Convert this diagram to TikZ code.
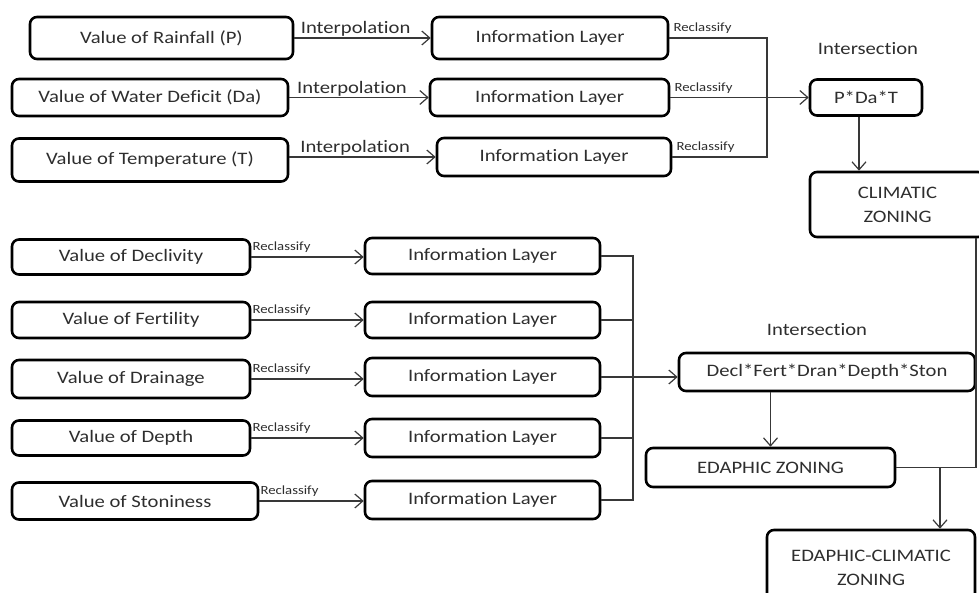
\documentclass[tikz,border=0pt]{standalone}
\usepackage{fontspec}
\setmainfont{Carlito}[FakeStretch=1.18,Ligatures={NoCommon}]
\usetikzlibrary{arrows.meta}
\definecolor{txt}{HTML}{2E2E2E}
\definecolor{ln}{HTML}{383838}
\tikzset{
  box/.style={draw=black, line width=2.6pt, rounded corners=7pt, text=txt,
    font=\fontsize{17.5}{24}\selectfont, align=center, inner sep=0pt},
  conn/.style={draw=ln, line width=1.2pt},
  arr/.style={conn, -{Straight Barb[length=8pt,width=14pt]}},
  lbl/.style={text=txt, font=\fontsize{17.5}{21}\selectfont, inner sep=1pt},
  small/.style={text=txt, font=\fontsize{12.5}{14}\selectfont, inner sep=1pt},
}
\begin{document}
\begin{tikzpicture}[x=1pt,y=-1pt]
\useasboundingbox (0,0) rectangle (979,593);
\clip (0,0) rectangle (979,593);
% upper inputs
\node[box,minimum width=263pt,minimum height=42pt] (rain) at (161.5,38) {Value of Rainfall (P)};
\node[box,minimum width=276pt,minimum height=37pt] (water) at (150,97.5) {Value of Water Deficit (Da)};
\node[box,minimum width=276pt,minimum height=43pt] (temp) at (150,160) {Value of Temperature (T)};
\node[box,minimum width=236pt,minimum height=42pt] (il1) at (550,38) {Information Layer};
\node[box,minimum width=239pt,minimum height=37pt] (il2) at (549.5,97.5) {Information Layer};
\node[box,minimum width=234pt,minimum height=38pt] (il3) at (554,157) {Information Layer};
\draw[arr] (rain) -- node[lbl,above,pos=0.45]{Interpolation} (il1);
\draw[arr] (water) -- node[lbl,above,pos=0.45]{Interpolation} (il2);
\draw[arr] (temp.east |- il3.west) -- node[lbl,above,pos=0.45]{Interpolation} (il3.west);
% collector 1
\coordinate (cx) at (767,0);
\node[box,minimum width=112pt,minimum height=36pt] (pdt) at (866,97.5) {P*Da*T};
\node[lbl] (int1) at (868,49) {Intersection};
\draw[conn] (il1.east) -- (il1.east -| cx) -- (il3.east -| cx) -- (il3.east);
\draw[arr] (il2) -- (pdt);
\node[small,anchor=south west,yshift=3pt,xshift=3pt] (r1) at (il1.east) {Reclassify};
\node[small,anchor=south west,yshift=3pt,xshift=3pt] (r2) at (il2.east) {Reclassify};
\node[small,anchor=south west,yshift=3pt,xshift=3pt] (r3) at (il3.east) {Reclassify};
\node[box,minimum width=175pt,minimum height=65pt] (clim) at (897.5,204.5) {CLIMATIC\\ZONING};
\draw[arr] ([xshift=-7pt]pdt.south) -- ([xshift=-7pt]pdt.south |- clim.north);
% lower inputs
\node[box,minimum width=238pt,minimum height=35pt] (decl) at (131,257) {Value of Declivity};
\node[box,minimum width=238pt,minimum height=36pt] (fert) at (131,320) {Value of Fertility};
\node[box,minimum width=238pt,minimum height=38pt] (drain) at (131,379) {Value of Drainage};
\node[box,minimum width=238pt,minimum height=35pt] (depth) at (131,438) {Value of Depth};
\node[box,minimum width=246pt,minimum height=37pt] (ston) at (135,501) {Value of Stoniness};
\node[box,minimum width=235pt,minimum height=36pt] (il4) at (482.5,256) {Information Layer};
\node[box,minimum width=235pt,minimum height=36pt] (il5) at (482.5,320) {Information Layer};
\node[box,minimum width=235pt,minimum height=38pt] (il6) at (482.5,377) {Information Layer};
\node[box,minimum width=235pt,minimum height=38pt] (il7) at (482.5,438) {Information Layer};
\node[box,minimum width=235pt,minimum height=38pt] (il8) at (482.5,500) {Information Layer};
\draw[arr] (decl.east) -- (decl.east -| il4.west);
\draw[arr] (fert.east) -- (fert.east -| il5.west);
\draw[arr] (drain.east) -- (drain.east -| il6.west);
\draw[arr] (depth.east) -- (depth.east -| il7.west);
\draw[arr] (ston.east) -- (ston.east -| il8.west);
\node[small,anchor=south west,yshift=3pt] (r4) at (decl.east) {Reclassify};
\node[small,anchor=south west,yshift=3pt] (r5) at (fert.east) {Reclassify};
\node[small,anchor=south west,yshift=3pt] (r6) at (drain.east) {Reclassify};
\node[small,anchor=south west,yshift=3pt] (r7) at (depth.east) {Reclassify};
\node[small,anchor=south west,yshift=3pt] (r8) at (ston.east) {Reclassify};
% collector 2
\coordinate (cx2) at (633,0);
\node[box,minimum width=296pt,minimum height=38pt] (dfd) at (827,372) {Decl*Fert*Dran*Depth*Ston};
\node[lbl] (int2) at (817,330) {Intersection};
\draw[conn] (il4.east) -- (il4.east -| cx2) -- (il8.east -| cx2) -- (il8.east);
\draw[conn] (il5.east) -- (il5.east -| cx2);
\draw[conn] (il7.east) -- (il7.east -| cx2);
\draw[arr] (il6.east) -- (il6.east -| dfd.west);
\node[box,minimum width=249pt,minimum height=39pt] (edz) at (770.5,467.5) {EDAPHIC ZONING};
\draw[arr] (dfd.south -| edz.north) -- (edz.north);
\node[box,minimum width=208pt,minimum height=75pt] (edc) at (871,567.5) {EDAPHIC-CLIMATIC\\ZONING};
% final connectors
\coordinate (rx) at (976,0);
\coordinate (ax) at (940,0);
\draw[conn] (clim.south -| rx) -- (edz.east -| rx) -- (edz.east);
\draw[arr] (ax |- edz.east) -- (ax |- edc.north);
\end{tikzpicture}
\end{document}
